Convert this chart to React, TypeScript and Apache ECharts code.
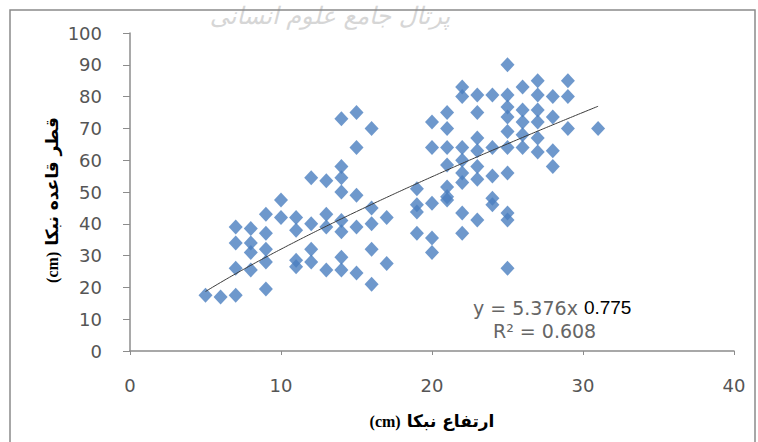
import React, { useEffect, useRef } from "react";
import * as echarts from "echarts";

// Nabka height (cm) – x values
const nabkaHeight: number[] = [
  5, 6, 7, 9,
  7, 8, 7, 8, 9, 9, 9, 10, 11, 11, 12, 13, 13, 14, 14, 15, 16, 17, 16, 10,
  7, 8, 9, 8, 11, 11, 12, 12, 13, 14, 14, 15, 16, 16, 17,
  14, 15, 16, 15, 14, 12, 13, 14, 14, 15,
  25, 27, 29, 22, 22, 23, 24, 25, 26, 27, 28, 29,
  21, 23, 25, 25, 26, 27, 26, 27, 28, 29, 31, 20, 21, 23,
  20, 21, 22, 23, 24, 25, 25, 26, 27, 27, 28, 28,
  21, 22, 23, 22, 25, 19, 21, 22, 21, 20, 19, 24,
  19, 21, 19, 20, 20, 22, 23, 22, 24, 25, 25, 25,
  24, 26, 23,
];

// Nabka base diameter (cm) – y values
const nabkaDiameter: number[] = [
  17.5, 17, 17.5, 19.5,
  39, 38.5, 34, 34, 43, 37, 32, 42, 42, 38, 40, 43, 39, 41, 37.5, 39, 40, 42, 45, 47.5,
  26, 25.5, 28, 31, 28.5, 26.5, 32, 28, 25.5, 29.5, 25.5, 24.5, 32, 21, 27.5,
  73, 75, 70, 64, 58, 54.5, 53.5, 54.5, 50, 49,
  90, 85, 85, 83, 80, 80.5, 80.5, 80.5, 83, 80.5, 80, 80,
  75, 75, 76.7, 73.6, 75.8, 75.8, 72, 72, 73.6, 70, 70, 72, 70, 67,
  64, 64, 64, 63, 64, 69, 64, 64, 67, 62.6, 63, 58,
  58.5, 60, 58, 56, 56, 51, 51.6, 53, 47.5, 46.5, 46, 48,
  43.7, 48.5, 37, 35.5, 31, 43.4, 41.2, 37, 46, 43.4, 41.2, 26,
  55, 68, 54,
];

// Power trend line: y = a * x^b (as printed on the chart)
const trendA = 5.376;
const trendB = 0.775;
const trendR2 = 0.608;
const trendXs: number[] = [5, 6, 7, 8, 9, 10, 11, 12, 13, 14, 15, 16, 17, 18, 19, 20, 21, 22, 23, 24, 25, 26, 27, 28, 29, 30, 31];

const xTicks = { min: 0, max: 40, interval: 10 };
const yTicks = { min: 0, max: 100, interval: 10 };

const xName = { unit: "(cm)", label: "ارتفاع نبکا" };
const yName = { unit: "(cm)", label: "قطر قاعده نبکا" };

export default function App() {
  const ref = useRef<HTMLDivElement>(null);
  useEffect(() => {
    if (!ref.current) return;
    const chart = echarts.init(ref.current, null, { renderer: "svg" });
    const points = nabkaHeight.map((x, i) => [x, nabkaDiameter[i]]);
    const trend = trendXs.map((x) => [x, trendA * Math.pow(x, trendB)]);
    const labelColor = "#555555";
    const nameRich = {
      u: { fill: "#000", font: "bold 16px Liberation Serif", padding: [0, 6, 0, 0] },
      p: { fill: "#000", font: "bold 17px DejaVu Sans" },
    };
    chart.setOption({
      animation: false,
      backgroundColor: "#ffffff",
      grid: { left: 130, right: 24, top: 33, bottom: 91 },
      xAxis: {
        type: "value",
        min: xTicks.min,
        max: xTicks.max,
        interval: xTicks.interval,
        splitLine: { show: false },
        axisLine: { show: true, lineStyle: { color: "#8c8c8c", width: 1.5 } },
        axisTick: { show: true, length: 4, lineStyle: { color: "#8c8c8c" } },
        axisLabel: { color: labelColor, fontSize: 18, fontFamily: "DejaVu Sans", margin: 25 },
      },
      yAxis: {
        type: "value",
        min: yTicks.min,
        max: yTicks.max,
        interval: yTicks.interval,
        splitLine: { show: false },
        axisLine: { show: true, lineStyle: { color: "#8c8c8c", width: 1.5 } },
        axisTick: { show: true, length: 7, lineStyle: { color: "#8c8c8c" } },
        axisLabel: { color: labelColor, fontSize: 18, fontFamily: "DejaVu Sans", margin: 28 },
      },
      series: [
        {
          type: "scatter",
          data: points,
          symbol: "diamond",
          symbolSize: [14, 15],
          itemStyle: { color: "#4a7ebf" },
          z: 2,
        },
        {
          type: "line",
          data: trend,
          smooth: true,
          showSymbol: false,
          lineStyle: { color: "#3a3a3a", width: 1 },
          z: 3,
        },
      ],
      graphic: [
        {
          type: "rect",
          shape: { x: 10, y: 10, width: 745, height: 460 },
          style: { fill: "none", stroke: "#8a8a8a", lineWidth: 1.5 },
          z: 10,
        },
        {
          type: "text",
          x: 330,
          y: 4,
          style: {
            text: "پرتال جامع علوم انسانی",
            fill: "#d6d6d6",
            font: "italic 24px DejaVu Sans",
            textAlign: "center",
          },
          z: 1,
        },
        {
          type: "text",
          x: 432,
          y: 421,
          style: {
            text: `{u|${xName.unit}}{p|${xName.label}}`,
            rich: nameRich,
            textAlign: "center",
            textVerticalAlign: "middle",
          },
          z: 5,
        },
        {
          type: "text",
          x: 52,
          y: 200,
          rotation: Math.PI / 2,
          style: {
            text: `{u|${yName.unit}}{p|${yName.label}}`,
            rich: nameRich,
            textAlign: "center",
            textVerticalAlign: "middle",
          },
          z: 5,
        },
        {
          type: "text",
          x: 473,
          y: 298,
          style: {
            text: `{a|y = ${trendA}x}{b|${trendB}}`,
            rich: {
              a: { fill: "#666666", font: "19px DejaVu Sans", padding: [0, 6, 0, 0] },
              b: { fill: "#000000", font: "19px Liberation Sans" },
            },
          },
          z: 5,
        },
        {
          type: "text",
          x: 493,
          y: 321,
          style: { text: `R² = ${trendR2}`, fill: "#666666", font: "19px DejaVu Sans" },
          z: 5,
        },
      ],
    });
    return () => chart.dispose();
  }, []);
  return (
    <div
      ref={ref}
      style={{ position: "absolute", left: 0, top: 0, width: 758, height: 442, background: "#fff" }}
    />
  );
}
